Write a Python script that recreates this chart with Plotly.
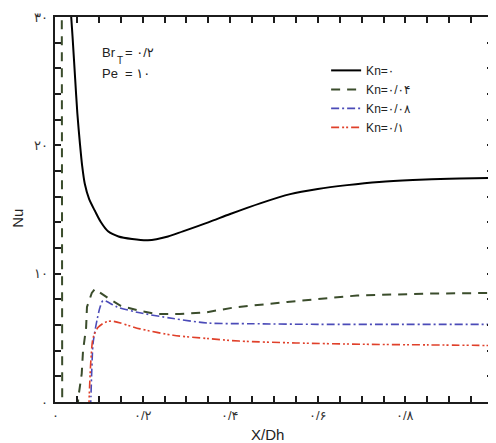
import plotly.graph_objects as go

# ---- data ----
x_kn0 = [0.035, 0.037, 0.040, 0.046, 0.051, 0.057, 0.062, 0.068, 0.078, 0.091, 0.105,
         0.121, 0.145, 0.176, 0.212, 0.258, 0.292, 0.35, 0.40, 0.47, 0.537, 0.60,
         0.667, 0.74, 0.817, 0.90, 1.0]
y_kn0 = [31.0, 30.0, 28.5, 25.2, 22.5, 20.1, 18.4, 17.0, 15.8, 14.9, 14.0,
         13.3, 12.9, 12.7, 12.6, 12.9, 13.3, 14.0, 14.65, 15.5, 16.2, 16.6,
         16.9, 17.15, 17.3, 17.4, 17.45]

x_kn004 = [0.0155, 0.0165, None, 0.052, 0.053, 0.061, 0.064, 0.071, 0.073, 0.084, 0.091,
           0.121, 0.150, 0.194, 0.233, 0.285, 0.347, 0.406, 0.53, 0.69, 0.856, 1.0]
y_kn004 = [31.0, -1.0, None, -0.5, 0.3, 2.2, 4.0, 5.8, 7.4, 8.5, 8.8,
           8.1, 7.5, 7.1, 6.85, 6.85, 7.0, 7.35, 7.8, 8.3, 8.45, 8.5]

x_kn008 = [0.081, 0.082, 0.084, 0.087, 0.096, 0.103, 0.110, 0.142, 0.187, 0.27, 0.35,
           0.45, 0.6, 0.8, 1.0]
y_kn008 = [-0.5, 0.4, 2.5, 4.6, 6.4, 7.4, 7.9, 7.4, 7.0, 6.5, 6.15,
           6.1, 6.05, 6.05, 6.05]

x_kn01 = [0.0775, 0.078, 0.082, 0.087, 0.098, 0.114, 0.130, 0.194, 0.27, 0.347, 0.42,
          0.55, 0.7, 0.85, 1.0]
y_kn01 = [-0.5, 0.3, 3.3, 5.0, 5.8, 6.2, 6.3, 5.7, 5.2, 4.95, 4.75,
          4.6, 4.5, 4.45, 4.4]

series_names = ["Kn=۰", "Kn=۰/۰۴", "Kn=۰/۰۸", "Kn=۰/۱"]
x_range = [0, 1]
y_range = [0, 30]
x_major = {0: "۰", 4: "۰/۲", 8: "۰/۴", 12: "۰/۶", 16: "۰/۸", 20: "۱"}
y_major = {0: "۰", 5: "۱۰", 10: "۲۰", 15: "۳۰"}
x_tick_positions = [i * 0.05 for i in range(21)]
y_tick_positions = [i * 2 for i in range(16)]
x_tick_labels = [x_major.get(i, "") for i in range(21)]
y_tick_labels = [y_major.get(i, "") for i in range(16)]

FONT = "Arial, DejaVu Sans"
TXT = "#222222"
AXIS = "#1c1c1c"

fig = go.Figure()
fig.add_trace(go.Scatter(x=x_kn0, y=y_kn0, mode="lines", name=series_names[0],
                         line=dict(color="black", width=2, shape="spline", smoothing=0.8)))
fig.add_trace(go.Scatter(x=x_kn004, y=y_kn004, mode="lines", name=series_names[1],
                         line=dict(color="#3b4d2c", width=2, dash="9px,7px")))
fig.add_trace(go.Scatter(x=x_kn008, y=y_kn008, mode="lines", name=series_names[2],
                         line=dict(color="#4b4bb8", width=1.6, dash="8px,3px,2px,3px",
                                   shape="spline", smoothing=0.8)))
fig.add_trace(go.Scatter(x=x_kn01, y=y_kn01, mode="lines", name=series_names[3],
                         line=dict(color="#e0402a", width=1.6,
                                   dash="8px,3px,2px,2px,2px,3px",
                                   shape="spline", smoothing=0.8)))

# tick labels written as annotations (keeps axis drawing free of the Persian text)
for v, t in zip(x_tick_positions, x_tick_labels):
    if t:
        fig.add_annotation(x=v, y=-0.035, xref="x", yref="paper", showarrow=False,
                           xanchor="center", yanchor="middle", text=t,
                           font=dict(family=FONT, size=13, color="#333333"))
for v, t in zip(y_tick_positions, y_tick_labels):
    if t:
        fig.add_annotation(x=-0.012, y=v, xref="paper", yref="y", showarrow=False,
                           xanchor="right", yanchor="middle", text=t,
                           font=dict(family=FONT, size=13, color="#333333"))

fig.update_layout(
    xaxis=dict(range=x_range, tickmode="array", tickvals=x_tick_positions,
               showticklabels=False, showline=True, linecolor=AXIS, linewidth=2,
               mirror="ticks", ticks="inside", ticklen=6, tickwidth=1.5,
               tickcolor=AXIS, showgrid=False, zeroline=False),
    yaxis=dict(range=y_range, tickmode="array", tickvals=y_tick_positions,
               showticklabels=False, showline=True, linecolor=AXIS, linewidth=2,
               mirror="ticks", ticks="inside", ticklen=6, tickwidth=1.5,
               tickcolor=AXIS, showgrid=False, zeroline=False),
)

# axis titles
fig.add_annotation(x=0.486, y=-0.085, xref="paper", yref="paper", showarrow=False,
                   xanchor="center", yanchor="middle",
                   text="X/Dh", font=dict(family=FONT, size=15, color=TXT))
fig.add_annotation(x=-0.085, y=0.478, xref="paper", yref="paper", showarrow=False,
                   xanchor="center", yanchor="middle",
                   text="Nu", textangle=-90, font=dict(family=FONT, size=15, color=TXT))

# parameter labels
fig.add_annotation(x=0.103, y=0.907, xref="paper", yref="paper", showarrow=False,
                   xanchor="left", yanchor="middle",
                   text="Br", font=dict(family=FONT, size=13, color=TXT))
fig.add_annotation(x=0.137, y=0.886, xref="paper", yref="paper", showarrow=False,
                   xanchor="left", yanchor="middle",
                   text="T", font=dict(family=FONT, size=10, color=TXT))
fig.add_annotation(x=0.155, y=0.907, xref="paper", yref="paper", showarrow=False,
                   xanchor="left", yanchor="middle",
                   text="= ۰/۲", font=dict(family=FONT, size=13, color=TXT))
fig.add_annotation(x=0.103, y=0.853, xref="paper", yref="paper", showarrow=False,
                   xanchor="left", yanchor="middle",
                   text="Pe", font=dict(family=FONT, size=13, color=TXT))
fig.add_annotation(x=0.155, y=0.853, xref="paper", yref="paper", showarrow=False,
                   xanchor="left", yanchor="middle",
                   text="= ۱۰", font=dict(family=FONT, size=13, color=TXT))

fig.update_layout(
    width=496, height=443,
    margin=dict(l=47, r=11, t=7, b=49),
    paper_bgcolor="white", plot_bgcolor="white",
    showlegend=True,
    legend=dict(x=0.619, y=0.899, xanchor="left", yanchor="top",
                font=dict(family=FONT, size=12, color=TXT)),
)

fig.write_html("out.html")
